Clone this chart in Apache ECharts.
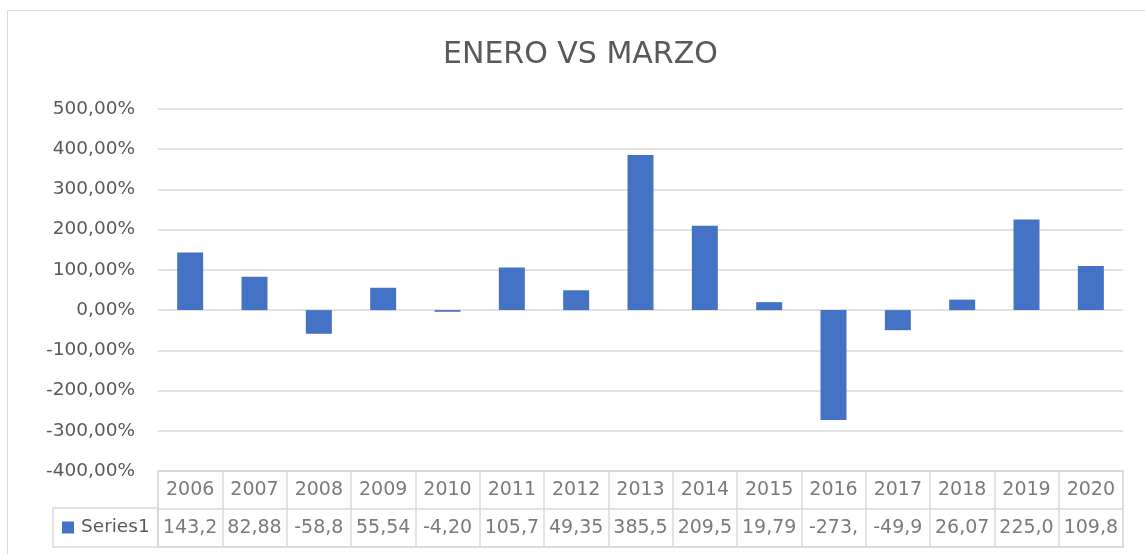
<!DOCTYPE html>
<html>
<head>
<meta charset="utf-8">
<script src="https://cdn.jsdelivr.net/npm/echarts@6/dist/echarts.min.js"></script>
<style>
html,body{margin:0;padding:0;background:#fff;overflow:hidden;}
#frame{position:absolute;left:7px;top:10px;width:1200px;height:600px;border:1px solid #d9d9d9;box-sizing:border-box;}
#chart{position:absolute;left:0;top:0;width:1145px;height:554px;}
</style>
</head>
<body>
<div id="frame"></div>
<div id="chart"></div>
<script>
var years = ['2006','2007','2008','2009','2010','2011','2012','2013','2014','2015','2016','2017','2018','2019','2020'];
var values = [143.21, 82.88, -58.83, 55.54, -4.20, 105.72, 49.35, 385.52, 209.54, 19.79, -273.10, -49.93, 26.07, 225.04, 109.83];
var seriesName = 'Series1';
var titleText = 'ENERO VS MARZO';

var FONT = 'DejaVu Sans';
var TXT = '#595959';
var GRIDC = '#d9d9d9';

function cellText(v){ return v.toFixed(2).replace('.', ',').slice(0,5); }

var yearCells = years.map(function(y){ return { value:[y,'year'], label:{ formatter: y } }; });
var valueCells = years.map(function(y,i){ return { value:[y,'value'], label:{ formatter: cellText(values[i]) } }; });

var chart = echarts.init(document.getElementById('chart'), null, {renderer:'canvas'});
chart.setOption({
  animation:false,
  backgroundColor:'transparent',
  title:{
    text:titleText, left:438, top:35, padding:5,
    textStyle:{fontFamily:FONT, fontSize:30, fontWeight:'normal', color:TXT}
  },
  legend:{
    data:[seriesName], left:57, top:513, icon:'rect', itemWidth:12, itemHeight:12,
    textStyle:{fontFamily:FONT, fontSize:18.5, color:TXT, padding:[0,0,0,2]},
    selectedMode:false
  },
  grid:[
    {left:158, right:22, top:109, height:362, containLabel:false},
    {left:158, right:22, top:471, height:76, show:true, borderColor:GRIDC, borderWidth:1.5},
    {left:53, width:105, top:508, height:39, show:true, borderColor:GRIDC, borderWidth:1.5}
  ],
  xAxis:[
    {gridIndex:0, type:'category', data:years, axisLine:{show:false}, axisTick:{show:false}, axisLabel:{show:false}},
    {gridIndex:1, type:'category', data:years, axisLine:{show:false}, axisTick:{show:false},
     axisLabel:{show:false, interval:0}, splitLine:{show:true, interval:0, lineStyle:{color:GRIDC, width:1.5}}},
    {gridIndex:2, type:'value', show:false}
  ],
  yAxis:[
    {gridIndex:0, type:'value', min:-400, max:500, interval:100,
     axisLine:{show:false}, axisTick:{show:false},
     splitLine:{lineStyle:{color:GRIDC, width:1.5}},
     axisLabel:{margin:23, fontFamily:FONT, fontSize:18.5, color:TXT,
       formatter:function(v){ return v.toFixed(2).replace('.', ',') + '%'; }}},
    {gridIndex:1, type:'category', data:['year','value'], inverse:true,
     axisLine:{show:false}, axisTick:{show:false}, axisLabel:{show:false},
     splitLine:{show:true, lineStyle:{color:GRIDC, width:1.5}}},
    {gridIndex:2, type:'value', show:false}
  ],
  series:[
    {name:seriesName, type:'bar', xAxisIndex:0, yAxisIndex:0, data:values, barWidth:26,
     itemStyle:{color:'#4472C4'}},
    {name:'tableYears', type:'scatter', xAxisIndex:1, yAxisIndex:1, data:yearCells, symbolSize:1, silent:true,
     itemStyle:{color:'transparent'},
     label:{show:true, position:'inside', fontFamily:FONT, fontSize:19, color:TXT}},
    {name:'tableValues', type:'scatter', xAxisIndex:1, yAxisIndex:1, data:valueCells, symbolSize:1, silent:true,
     itemStyle:{color:'transparent'},
     label:{show:true, position:'inside', fontFamily:FONT, fontSize:19, color:TXT}}
  ]
});
</script>
</body>
</html>
